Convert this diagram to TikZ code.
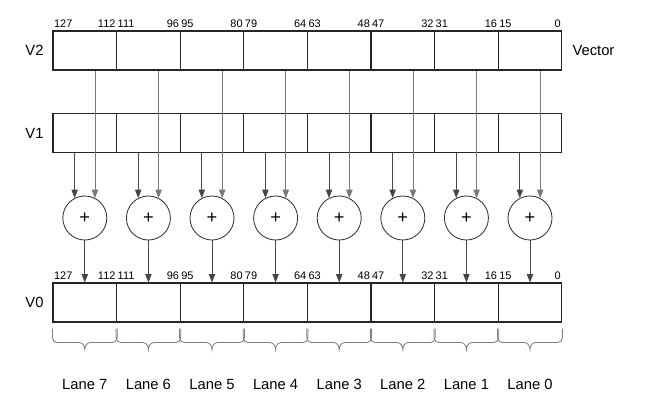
\documentclass[tikz,border=0pt]{standalone}
\usepackage{fontspec}
\setmainfont{Liberation Sans}
\usepackage{tikz}
\usetikzlibrary{arrows.meta, positioning, calc}
\definecolor{wiregray}{RGB}{120,120,120}
\definecolor{darkwire}{RGB}{70,70,70}
\definecolor{bracegray}{RGB}{125,125,125}

\begin{document}
\begin{tikzpicture}[
  cell/.style={rectangle, draw=black!85, line width=0.8pt, minimum width=1.59cm, minimum height=0.975cm, inner sep=0pt},
  adder/.style={circle, draw=black!80, line width=0.6pt, minimum size=1.1cm, inner sep=0pt, font=\fontsize{13}{14}\selectfont},
  wire/.style={line width=0.6pt, draw=darkwire, -{Triangle[length=2.1mm, width=1.6mm]}},
  bitnum/.style={font=\fontsize{7.8}{9}\selectfont, inner sep=1pt},
  reglabel/.style={font=\fontsize{10.5}{12}\selectfont},
  lanebrace/.style={line width=0.6pt, draw=bracegray}
]

\useasboundingbox (0,0) rectangle (16.2,-10.075);

% Registers V2, V1, V0
\foreach \i in {0,...,7} {
  \node[cell] (v2-\i) at (2.12+1.59*\i, -1.2625) {};
  \node[cell] (v1-\i) at (2.12+1.59*\i, -3.325) {};
  \node[cell] (v0-\i) at (2.12+1.59*\i, -7.5625) {};
}

\node[reglabel, left=0.1cm of v2-0] (lbl-v2) {V2};
\node[reglabel, left=0.1cm of v1-0] (lbl-v1) {V1};
\node[reglabel, left=0.1cm of v0-0] (lbl-v0) {V0};
\node[reglabel, right=0.13cm of v2-7] (lbl-vec) {Vector};

% Bit numbers
\foreach \i in {0,...,7} {
  \pgfmathtruncatemacro{\hibit}{127-16*\i}
  \pgfmathtruncatemacro{\lobit}{112-16*\i}
  \node[bitnum, anchor=south west] (hi2-\i) at ([yshift=1pt]v2-\i.north west) {\hibit};
  \node[bitnum, anchor=south east] (lo2-\i) at ([yshift=1pt]v2-\i.north east) {\lobit};
  \node[bitnum, anchor=south west] (hi0-\i) at ([yshift=1pt]v0-\i.north west) {\hibit};
  \node[bitnum, anchor=south east] (lo0-\i) at ([yshift=1pt]v0-\i.north east) {\lobit};
}

% Adders and wires
\foreach \i in {0,...,7} {
  \node[adder] (add-\i) at (v1-\i.center |- 0,-5.45) {+};
  \draw[wire] (add-\i.117 |- v1-\i.south) -- (add-\i.117);
  \draw[wire, draw=wiregray] (add-\i.63 |- v2-\i.south) -- (add-\i.63);
  \draw[wire] (add-\i.south) -- (add-\i.south |- v0-\i.north);
}

% Lane braces
\foreach \i in {0,...,7} {
  \pgfmathtruncatemacro{\lanenum}{7-\i}
  \draw[lanebrace] ([yshift=-0.15cm]v0-\i.south west) -- ([yshift=-0.38cm]v0-\i.south west)
    to[out=-90, in=180] ([shift={(0.12,-0.5)}]v0-\i.south west)
    -- ([shift={(-0.14,-0.5)}]v0-\i.south)
    to[out=0, in=90] ([yshift=-0.675cm]v0-\i.south)
    to[out=90, in=180] ([shift={(0.14,-0.5)}]v0-\i.south)
    -- ([shift={(-0.12,-0.5)}]v0-\i.south east)
    to[out=0, in=-90] ([yshift=-0.38cm]v0-\i.south east)
    -- ([yshift=-0.15cm]v0-\i.south east);
  \node[reglabel] (lane-\i) at ([yshift=-1.55cm]v0-\i.south) {Lane \lanenum};
}

\end{tikzpicture}
\end{document}
